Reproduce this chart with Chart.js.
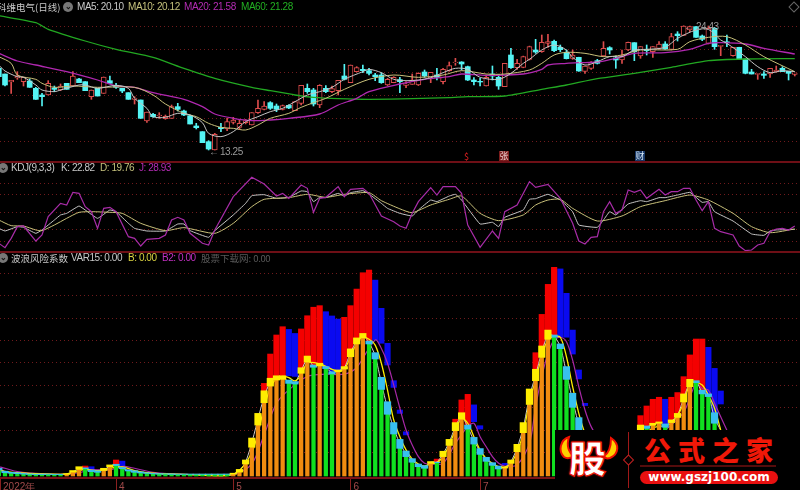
<!DOCTYPE html>
<html lang="zh"><head><meta charset="utf-8">
<script src="https://cdn.jsdelivr.net/npm/chart.js@4"></script>
<style>
html,body{margin:0;padding:0;background:#000;width:800px;height:490px;overflow:hidden}
canvas{position:absolute;left:0;display:block}
.t{position:absolute;white-space:nowrap;font:10px/12px "Liberation Sans","Noto Sans CJK SC",sans-serif;letter-spacing:-.45px;z-index:3}
.cjk{font-family:"Noto Sans CJK SC",sans-serif;letter-spacing:0}
.sep{position:absolute;left:0;width:800px;height:2px;background:#6e0f16;z-index:2}
.ic{position:absolute;width:10px;height:10px;border-radius:50%;background:#777;z-index:3;color:#111;font:bold 8px/9px "Liberation Sans";text-align:center}
</style></head><body>
<canvas id="cTop" style="top:0"></canvas>
<canvas id="cMid" style="top:163px"></canvas>
<canvas id="cBot" style="top:253px"></canvas>
<div class="sep" style="top:161px"></div><div class="sep" style="top:251px"></div>

<span class="t cjk" style="left:-3px;top:1px;color:#c8c8c8;font-size:9.5px">科维电气(日线)</span>
<div class="ic" style="left:63px;top:2px">⌄</div>
<span class="t" style="left:77px;top:1px;color:#c8c8c8">MA5: 20.10</span>
<span class="t" style="left:128px;top:1px;color:#c4c07c">MA10: 20.12</span>
<span class="t" style="left:184px;top:1px;color:#b42cb4">MA20: 21.58</span>
<span class="t" style="left:241px;top:1px;color:#22b022">MA60: 21.28</span>
<span class="t" style="left:209px;top:146px;color:#9a9a9a">←</span><span class="t" style="left:220px;top:146px;color:#9a9a9a">13.25</span>
<span class="t" style="left:684px;top:21px;color:#9a9a9a">← 24.43</span>
<span class="t cjk" style="left:464px;top:151px;color:#e02020;font-size:9px">$</span>
<span class="t cjk" style="left:499px;top:151px;width:10px;height:10px;line-height:10px;background:#7a1c1c;color:#f0d0d0;font-size:9px;text-align:center">张</span>
<span class="t cjk" style="left:635px;top:151px;width:10px;height:10px;line-height:10px;background:#183868;color:#d0e4f4;font-size:9px;text-align:center">财</span>
<div style="position:absolute;left:790px;top:3px;width:6px;height:6px;border:1px solid #666;transform:rotate(45deg);z-index:3"></div>

<div class="ic" style="left:-2px;top:163px">⌄</div>
<span class="t" style="left:11px;top:162px;color:#c8c8c8">KDJ(9,3,3)</span>
<span class="t" style="left:61px;top:162px;color:#c8c8c8">K: 22.82</span>
<span class="t" style="left:100px;top:162px;color:#c4c07c">D: 19.76</span>
<span class="t" style="left:139px;top:162px;color:#b42cb4">J: 28.93</span>

<div class="ic" style="left:-2px;top:253px">⌄</div>
<span class="t cjk" style="left:11px;top:252px;color:#c8c8c8;font-size:9.5px">波浪风险系数</span>
<span class="t" style="left:71px;top:252px;color:#c8c8c8">VAR15: 0.00</span>
<span class="t" style="left:128px;top:252px;color:#d8d040">B: 0.00</span>
<span class="t" style="left:162px;top:252px;color:#c030c0">B2: 0.00</span>
<span class="t cjk" style="left:201px;top:252px;color:#5a5a5a;font-size:9.5px">股票下载网: <span style="letter-spacing:-.4px">0.00</span></span>

<div style="position:absolute;left:555px;top:430px;width:245px;height:60px;background:#000;z-index:4">
  <svg width="245" height="60" style="position:absolute;left:0;top:0">
    <path d="M14 7 C5 10 3 21 9 27 C12 29 16 28 19 26 C14 23 11 16 14 7Z" fill="#ffd000" stroke="#f01000" stroke-width="2"/>
    <path d="M56 8 C65 14 64 24 55 28 C52 29 50 28 49 26 C54 23 56 16 56 8Z" fill="#ffd000" stroke="#f01000" stroke-width="2"/>
    <line x1="73.5" y1="2" x2="73.5" y2="58" stroke="#a01818" stroke-width="1"/>
    <rect x="70" y="26.5" width="7" height="7" fill="#000" stroke="#c02020" transform="rotate(45 73.5 30)"/>
    <line x1="85" y1="36" x2="221" y2="36" stroke="#701010" stroke-width="1.5"/>
    <rect x="85" y="41" width="138" height="13" rx="6.5" fill="#e81010"/>
  </svg>
  <span style="position:absolute;left:14px;top:4px;font:900 37px/46px 'Noto Sans CJK SC',sans-serif;color:#fff;-webkit-text-stroke:1px #f01000;text-shadow:0 0 2px #f01000,0 0 2px #f01000">股</span>
  <span style="position:absolute;left:89px;top:5px;font:900 27px/30px 'Noto Sans CJK SC',serif;color:#f01808;letter-spacing:7px;white-space:nowrap">公式之家</span>
  <span style="position:absolute;left:85px;top:41px;width:138px;text-align:center;font:bold 12px/13px 'DejaVu Sans',sans-serif;color:#fff;white-space:nowrap">www.gszj100.com</span>
</div>

<script>
// ---- price panel (daily candles, indices 0..129) ----
const open=[20.6,20.09,19.37,19.73,19.4,19.46,18.8,18.2,18.2,18.83,18.65,19.25,19.01,19.64,19.4,18.05,18.8,18.35,19.49,19.07,18.8,18.41,17.81,17.75,15.86,16.46,16.31,16.07,16.1,17.15,16.76,16.34,15.41,14.9,14.0,13.25,15.29,15.14,15.74,15.29,15.71,15.5,16.61,16.91,17.51,17.21,16.91,17.27,16.79,17.45,18.8,18.65,17.3,18.8,18.5,18.59,19.91,19.31,20.3,20.51,20.39,20,20,19.1,19.31,19.58,19.07,19.16,19.1,20.27,19.7,20,19.4,20.39,21.11,21.17,20.75,19.55,19.43,19.01,20.09,19.79,18.95,21.8,20.66,20.69,21.41,22.25,22.1,22.85,23.03,22.49,22.04,21.5,21.59,20.33,20.6,21.29,21.71,22.46,21.53,21.35,22.25,22.91,21.71,22.31,22.1,22.4,22.79,22.31,23.69,23.57,24.05,24.35,23.51,22.85,24.2,22.58,22.99,21.74,22.49,21.44,20.27,20.06,20.09,20.09,20.27,20.6,20.33,20.06];
const high=[20.6,20.09,19.52,20.3,19.79,19.64,18.89,18.35,19.49,19.01,19.19,19.25,20.3,19.7,19.4,18.65,18.8,19.82,19.91,19.25,18.8,18.41,18.05,17.75,16.67,16.55,16.61,16.4,17.3,17.45,16.85,16.4,15.65,14.9,14.09,14.75,15.65,16.1,16.19,15.95,16.0,16.61,17.75,17.6,17.6,17.39,17.3,17.33,17.6,19.07,19.19,18.8,19.13,19.04,19.01,19.52,20.96,20.9,20.75,20.9,20.6,20.15,20.21,19.7,19.85,19.79,19.4,20.09,20.2,20.45,20.24,20.6,20.6,21.17,21.5,21.2,20.8,19.76,19.7,20,20.81,20,21.05,22.4,21.41,21.7,22.6,23.21,23.6,23.66,23.15,22.7,22.25,22.25,21.6,20.81,21.2,21.41,23,22.55,21.71,22.25,22.96,22.91,22.55,22.7,22.55,23,23,23.75,23.9,24.43,24.4,24.35,23.6,24.41,24.29,22.67,23.6,22.5,22.5,21.45,20.51,20.15,20.3,20.6,20.81,20.75,20.33,20.18];
const low=[19.85,19.01,18.35,19.61,19.01,18.89,17.81,17.21,18.2,18.5,18.59,18.71,19.01,19.31,18.59,17.81,18.11,18.35,19.25,18.8,18.41,17.81,17.39,16.1,15.74,16.19,16.1,16.01,16.1,16.76,16.34,15.59,15.14,13.91,13.25,13.25,14.9,14.99,15.59,15.11,15.6,15.5,16.55,16.85,16.9,16.7,16.85,16.97,16.79,17.3,18.35,17.21,17.06,18.41,18.41,18.2,19.55,19.31,20.27,20.21,20,19.49,19.25,19.05,19.3,18.41,18.86,19.16,19.05,19.79,19.31,19.55,19.19,20.33,20.87,20.45,19.5,19.1,19.01,19.01,19.55,18.71,18.95,20.6,20.51,20.65,21.35,21.95,22.04,22.49,22.1,22.1,21.44,21.41,20.33,20.15,20.51,20.99,21.65,21.89,20.6,21.05,22.2,21.29,21.5,21.8,21.59,22.31,22.31,22.25,23.06,23.55,23.9,23.39,23.09,22.79,22.31,21.74,22.55,21.7,21.4,20.1,20.09,19.61,19.7,19.79,20.27,20.3,19.55,19.91];
const close=[19.85,19.1,19.52,19.88,19.79,18.89,17.81,18.05,19.25,18.71,19.01,18.71,19.91,19.31,18.59,18.65,18.11,19.82,19.25,18.89,18.56,17.81,17.93,16.1,16.67,16.25,16.4,16.28,17.15,16.91,16.4,15.59,15.26,13.91,13.34,14.66,15.17,15.8,15.95,15.65,15.89,16.61,17.0,17.21,17.0,16.91,17.24,17.03,17.6,19.07,18.5,17.39,19.07,18.5,18.77,19.52,19.61,20.9,20.66,20.39,20.15,19.85,19.31,19.61,19.79,19.4,19.19,19.55,20.15,19.91,20.24,19.79,20.51,20.84,21.17,20.99,19.55,19.4,19.37,19.79,19.91,19.01,21.05,20.66,21.05,21.65,22.55,22.07,22.94,23,22.19,22.28,21.47,21.8,20.36,20.81,21.11,21.05,22.4,22.25,21.35,21.65,22.94,22.1,22.55,22.19,22.55,22.79,22.34,23.45,23.54,24.41,24.35,23.39,23.21,24.2,22.55,22.67,22.91,22.49,21.44,20.15,20.09,20.15,19.97,20.6,20.45,20.3,20.15,20.18];
const priceGrid=[24.35,22.31,20.21,18.14,16.1,14.03];

const ma5Idx=[0,1,3,4,6,7,9,10,13,14,16,19,21,22,24,25,27,29,31,33,34,36,38,40,42,44,46,48,50,52,54,56,59,60,62,64,66,68,70,72,74,76,78,81,83,85,86,88,90,92,93,95,97,99,101,103,105,108,110,113,115,117,118,121,123,125,127,129];
const ma5=[20.9,20.36,19.85,19.79,19.1,18.65,18.5,18.65,19.1,19.1,18.8,19.07,18.8,17.9,17,16.25,16.19,16.55,16.4,15.71,14.75,14.45,14.9,15.8,16.25,16.7,17,17.6,18.2,18.5,18.89,19.61,20.3,20.51,20.21,19.61,19.49,19.55,19.76,20.21,20.6,20.51,19.79,19.61,20.15,21.05,21.41,22.25,22.7,22.25,21.59,20.9,21.2,21.65,21.65,22.25,22.31,22.49,23.3,24.05,24.11,23.15,22.85,21.65,20.75,20.21,20.39,20.3];
const ma10Idx=[0,2,3,6,7,9,12,16,22,25,27,30,32,34,36,38,40,42,44,47,49,51,53,56,60,64,68,72,75,79,82,86,88,90,92,95,98,101,104,110,112,115,118,121,124,129];
const ma10=[21.65,21.05,20,19.61,19.25,18.89,19.01,18.89,18.89,18.2,17.39,16.55,16.25,15.65,15.29,15.2,15.05,15.5,16.1,16.55,17.09,17.51,17.9,18.71,19.61,20,19.79,20,20.39,20.09,20.09,20.45,21.05,21.8,22.04,21.95,21.65,21.8,22.25,22.31,23,23.39,23.45,22.7,21.65,20.3];
const ma20Idx=[0,3,6,11,16,19,22,25,30,33,35,38,41,44,47,52,55,58,60,65,69,73,75,79,85,88,89,92,94,97,100,103,108,112,115,117,121,124,129];
const ma20=[21.95,21.26,20.9,20.3,19.55,19.01,18.89,18.41,17.81,17.15,16.49,16.1,15.89,15.95,16.1,16.49,17.3,17.9,18.5,19.19,19.61,19.85,20.09,19.97,20.09,20.51,20.9,21.05,21.11,21.17,21.5,21.95,22.01,22.31,22.85,22.91,22.79,22.4,21.89];
const ma60Idx=[0,6,8,14,19,25,30,35,41,44,48,51,55,60,67,73,76,82,88,92,97,103,109,115,121,129];
const ma60=[25.34,24.71,24.11,23.06,22.31,21.59,20.6,19.7,18.89,18.59,18.2,17.99,17.87,17.81,17.87,17.96,18.05,18.11,18.71,19.1,19.67,20.15,20.69,21.29,21.44,21.47];

// ---- KDJ panel ----
const kdjGrid=[100,80,50,20,0];
const kIdx=[0,1,3,4,6,7,9,10,11,13,14,16,18,19,21,22,24,27,29,30,31,34,35,38,40,41,43,45,47,49,50,51,52,53,55,56,57,59,60,62,63,65,67,68,70,71,73,74,75,78,80,81,82,85,86,87,89,91,93,94,97,98,99,100,102,104,105,107,108,110,112,113,114,115,116,119,122,124,125,126,129];
const kVals=[22.7,18.2,25.6,24.4,14.2,19.9,36.9,45.5,48.3,60.8,54,39.8,54,51.1,31.3,22.7,18.2,18.2,30.1,30.1,18.8,7.4,18.8,45.5,65.3,78.4,80.1,73.9,75.6,86.4,85.2,68.2,75.6,75,82.4,77.8,83.5,86.9,81.3,65.3,56.8,48.3,43.8,54,71,68.2,77.8,80.7,71,30.1,33,25.6,41.5,54,72.2,73.3,80.7,71,51.1,28.4,24.4,36.9,51.1,45.5,64.2,69.9,68.2,75,75,79.5,84.1,75.6,67,68.2,51.1,35.2,13.1,10.8,18.2,19.9,21];
const dIdx=[0,2,4,6,7,9,11,13,15,18,20,23,27,30,35,38,41,43,47,50,53,56,60,62,65,67,70,73,75,78,81,85,87,89,91,93,97,101,104,108,112,115,119,122,125,129];
const dVals=[36.9,27.3,26.7,19.9,18.8,28.4,39.8,50,51.1,50,48.3,31.3,18.8,23.9,14.2,31.3,59.7,72.2,75,80.7,75.6,80.7,83.5,69.9,56,49.4,62.5,72.2,77.8,48.3,35.8,45.5,62.5,71,72.2,56.8,35.2,43.8,59.7,69.9,79.5,71,48.3,25.6,15.3,21.6];
const jIdx=[0,1,2,3,4,6,7,8,10,11,12,13,14,15,16,17,18,19,21,22,23,24,26,27,28,29,30,31,33,34,35,38,41,43,45,46,47,49,50,51,52,53,55,56,57,59,60,62,64,65,66,67,68,70,71,72,74,75,76,78,80,81,82,84,86,87,89,91,93,94,95,96,97,98,99,100,101,102,103,104,105,107,108,109,110,111,112,113,114,115,116,117,119,120,121,122,123,124,125,126,127,128,129];
const jVals=[-2.8,-10.2,5.7,25.6,26.7,1.1,11.4,42.6,65.3,62.5,84.1,82.4,59.7,51.1,22.7,56.8,58.5,51.1,8.5,5.7,-7.4,4,5.7,11.4,36.9,41.5,36.9,14.2,-2.8,-5.7,19.9,76.7,109.7,98.3,77.8,82.4,73.9,96.6,90.9,50,73.9,75.6,93.8,76.7,89.2,90.9,82.4,43.8,34.1,26.7,22.7,48.3,68.2,92,79.5,93.8,93.8,82.4,28.4,-9.7,18.2,5.7,51.1,62.5,102.3,92.6,97.7,73.9,31.3,1.1,-4,7.4,8.5,51.1,68.2,48.3,54,88.1,84.1,88.1,73.9,89.2,79.5,85.2,85.2,90.9,90.9,71,52.8,68.2,22.7,17,11.4,-7.4,-15.3,-14.2,-5.7,-2.8,17,21.6,22.7,19.9,26.7];

// ---- wave risk panel ----
const riskGrid=[10,20,30,40,50,60,70,80,90];
const innerTop=[2.2,1,.8,.6,.4,.3,.2,.2,.3,.2,.2,.3,1.3,2.5,2.8,1.5,1.2,2,3.7,4.2,2.8,1.8,1.2,.9,.7,.5,.4,.4,.3,.3,.3,.3,.3,.3,.3,.3,.3,.3,.4,1.3,4.9,12.4,22.3,32.3,39.7,42.4,42.7,40.9,40.6,45.4,50.4,48.1,48.7,47.5,45.1,46.1,47.3,52.8,58.5,61.2,58.5,51.8,38.2,27.1,18.3,11.9,8.2,5.7,3.7,3,5.2,5.5,8.2,13.2,19.8,24.9,20.5,13.8,9.2,6.1,4.3,2.7,3.1,5.2,10.4,18.9,31.5,42.1,52.5,60.6,61.5,56.4,42.7,30.2,20.1,null,null,null,null,null,null,null,null,null,20.1,20.8,22.2,23.1,21.3,23.4,25.7,32.6,39.4,41.2,36.2,35,23.1,null];
const blockTop=[3,1.7,1.2,1,.7,.5,.4,.4,.4,.3,.3,.5,2,3.7,3.2,2.2,1.9,3,4.5,4.8,3.4,2.3,1.9,1.4,1,.7,.6,.5,.5,.4,.4,.4,.4,.4,.4,.4,.4,.4,.8,2.5,6.7,16.5,27.5,37.6,43.2,44.3,44.3,42.4,41.7,47.9,53.1,49.1,49.9,48.4,46.1,46.9,48.4,56.3,61.2,63.2,59.8,54.6,43.6,32.7,23.4,15.9,10.7,7.3,4.9,4.2,6,5.7,10.6,15.9,23.4,27.8,22.3,16.8,11.8,7.9,5.5,4,3.7,6.7,13.7,23.4,38.4,47.2,57.6,64.7,62.5,58.5,48.4,36.5,25.6,null,null,null,null,null,null,null,null,null,22.3,21.9,23.1,23.7,22.8,24.6,27.5,36.2,42.7,42.1,37.9,36.2,27.8,null];
const innerRising=[0,0,0,0,0,0,0,0,0,0,0,1,1,1,0,0,0,1,1,0,0,0,0,0,0,0,0,0,0,0,0,0,0,0,0,0,0,0,1,1,1,1,1,1,1,1,1,0,0,1,1,0,1,0,0,1,1,1,1,1,0,0,0,0,0,0,0,0,0,0,1,0,1,1,1,1,0,0,0,0,0,0,1,1,1,1,1,1,1,1,0,0,0,0,0,0,0,0,0,0,0,0,0,0,1,0,1,1,0,1,1,1,1,0,0,0,0,0];
const barIndex=[14,15,19,20,43,44,45,46,47,48,49,50,51,52,53,54,55,56,57,58,59,60,61,62,63,64,65,66,71,74,75,76,77,78,82,87,88,89,90,91,92,93,94,95,104,105,106,107,108,109,110,111,112,113,114,115,116,117];
const barHigh=[4,3.7,6.7,6.2,40.9,54,62.5,66.2,65,63.2,65.2,71.1,74.9,75.6,72.9,71,69.6,70.4,75.6,83,90.3,91.5,87,74.4,58.8,42.1,29,19.3,7.1,24.9,33.5,36,31.3,22,5.2,54.6,71.7,85.1,92.7,92,81.1,64.7,46.9,32,26.5,30.8,33.8,34.7,33.8,34.7,36.8,43.9,53.6,60.7,60.7,57,47.6,37.5];
const barLow=[3.2,2.2,4.8,3.4,37.6,43.2,44.3,44.3,44.3,44,47.9,53.1,49.1,49.9,48.4,46.1,46.9,48.4,56.3,61.2,63.2,59.8,60.3,58.8,49.1,39.1,27.5,17.9,5.7,23.4,27.8,22.3,23.8,20.5,4.5,47.2,57.6,64.7,62.5,61.5,61.5,54,42.9,31,22.3,21.9,23.1,23.7,22.8,24.6,27.5,36.2,42.7,42.1,37.9,36.2,27.8,31.7];
const barRising=[1,0,1,0,1,1,1,1,0,0,1,1,1,1,0,0,0,1,1,1,1,1,0,0,0,0,0,0,1,1,1,1,0,0,0,1,1,1,1,0,0,0,0,0,1,1,1,1,0,1,1,1,1,1,1,0,0,0];
const varIdx=[0,1,2,3,4,5,10,11,12,13,14,15,16,17,18,19,20,21,22,24,26,30,37,38,39,40,41,42,43,44,45,46,47,48,49,50,51,52,53,54,55,56,57,58,59,60,61,62,63,64,65,66,67,68,69,70,71,72,73,74,75,76,77,78,79,80,81,82,83,84,85,86,87,88,89,90,91,92,93,94,97,99,101,103,104,105,106,107,108,109,110,111,112,113,114,115,116,117];
const varVals=[3,1.5,1,.75,.6,.45,.3,.4,1.5,2.6,2.7,2,1.6,2.3,3.9,4.2,3,2,1.6,.9,.5,.3,.3,.5,1.9,5.8,14.4,25,35,41.5,43.5,43.5,41.7,41.2,46.6,51.8,48.7,49.3,47.9,45.7,46.4,47.9,54.6,59.8,62.2,59.2,53.3,40.9,29.9,20.8,14,9.5,6.5,4.3,3.6,5.7,5.8,9.4,14.6,21.6,26.3,21.4,15.3,10.6,7,4.9,3.4,3.4,6,12,21.1,35,44.6,55,62.6,62,57.4,45.5,33.3,22.9,4,3,8,16,21.3,21.4,22.6,23.4,22,24,26.6,34.4,41.1,41.7,37,35.6,25.4,20];
const bIdx=[0,3,10,12,14,16,18,20,22,25,30,38,41,43,44,45,46,47,48,49,50,52,54,55,56,57,58,59,60,61,62,63,64,65,66,67,68,69,70,71,72,73,74,75,76,77,78,79,80,81,82,83,84,85,86,87,88,89,90,91,92,93,94,95,97,99,101,103,106,109,111,112,113,114,115,116,117];
const bVals=[2,1,.3,1,2.5,1.9,3,3.6,2,.8,.3,.3,10,30,39,43,44,43.5,42,44.6,50,49.6,47.2,46.4,47.2,52.8,58.8,61.5,60.6,58,49.9,37.9,24.6,17.1,11.2,7.1,4.9,4,4.9,5.5,8.2,13.4,20.1,25.3,23.1,17.1,11.2,7.3,5.2,3.7,3.4,5.2,10.4,18.6,32.7,42.4,52.8,60.6,61.8,61.5,52.8,39.4,27.5,18.6,7,4,7,14,21,23,32,40.9,41.2,40.2,35.7,29.8,20.1];
const b2Idx=[0,1,3,5,10,13,15,18,20,22,25,30,38,41,43,45,47,50,53,56,58,61,62,63,64,65,66,67,68,69,70,72,74,76,77,78,79,80,81,82,84,86,87,88,89,90,91,92,93,94,95,96,98,100,102,104,108,111,113,114,115,116,117,118];
const b2Vals=[3.7,3,1.5,.9,.3,1,2.4,2.2,3.8,3,1.2,.3,.2,5,18,32,38,44,45,45,48,60.3,56.5,49.9,40.2,29.8,20.1,13.4,8.2,5.2,4.9,5.2,14.1,21.6,23.1,17.1,12.6,8.2,5.2,4,4.5,14.1,30.5,43.9,54.3,60.3,61.5,59.5,51.3,39.4,29,21.6,12,5,8,12,20,28,41,38.7,37.9,32,26,20];
const minorTicks=[24,29,33,43,48,52,62,67,73,83,88];
const monthTicks=[0.2,19,38,57,78];
const monthLabels=['2022年','4','5','6','7'];

Chart.defaults.font.family='"Liberation Sans",sans-serif';
const X0=0.19,X1=129.85,GRID='#701a1c';
const pts=(ix,vs)=>ix.map((x,k)=>({x,y:vs[k]}));
const lineDs=(ix,vs,color,w,order,tension)=>({type:'line',data:pts(ix,vs),borderColor:color,borderWidth:w,pointRadius:0,tension:tension,order:order,xAxisID:'x',yAxisID:'y'});
const barDs=(data,color,thick,order,extra)=>Object.assign({type:'bar',data,backgroundColor:color,barThickness:thick,grouped:false,borderWidth:0,order,xAxisID:'x',yAxisID:'y'},extra||{});
const xHidden={type:'linear',min:X0,max:X1,offset:false,display:false,grid:{offset:false}};
const yScale=(min,max,grid)=>({type:'linear',min,max,offset:false,display:true,position:'left',
  afterBuildTicks:s=>{s.ticks=grid.map(v=>({value:v}))},afterFit:s=>{s.width=0},
  ticks:{display:false},border:{display:false,dash:[1,3]},
  grid:{color:GRID,drawTicks:false,lineWidth:1}});
const base={responsive:false,animation:false,events:[],devicePixelRatio:1,layout:{padding:0},
  plugins:{legend:{display:false},tooltip:{enabled:false},title:{display:false}}};
function size(id,h){const c=document.getElementById(id);c.width=800;c.height=h;c.style.width='800px';c.style.height=h+'px';return c}

// --- candles
const IDX=open.map((_,i)=>i);
const upI=IDX.filter(i=>close[i]>=open[i]), dnI=IDX.filter(i=>close[i]<open[i]);
const RED='#dc4c4c',CY='#54f4f4';
new Chart(size('cTop',161),{type:'bar',data:{datasets:[
  lineDs(ma5Idx,ma5,'#c4c4c4',1,1,.3),
  lineDs(ma10Idx,ma10,'#c8c07a',1,1,.3),
  lineDs(ma20Idx,ma20,'#b028b0',1.3,1,.3),
  lineDs(ma60Idx,ma60,'#22a822',1.3,1,.2),
  barDs(upI.map(i=>({x:i,y:[open[i],close[i]]})),'#000',5,5,{borderColor:RED,borderWidth:1,borderSkipped:false}),
  barDs(dnI.map(i=>({x:i,y:[open[i],close[i]]})),CY,5,5),
  barDs(upI.map(i=>({x:i,y:[low[i],high[i]]})),RED,1,6),
  barDs(dnI.map(i=>({x:i,y:[low[i],high[i]]})),CY,1,6)
]},options:Object.assign({},base,{scales:{x:xHidden,y:yScale(26.75-0.09*161,26.75,priceGrid)}})});

// --- KDJ  (panel y 163..251)
const kv=px=>(245-(px-160)*3)/1.76;
new Chart(size('cMid',88),{type:'line',data:{datasets:[
  lineDs(dIdx,dVals,'#c8c07a',1,2,.2),
  lineDs(kIdx,kVals,'#c4c4c4',1,2,.1),
  lineDs(jIdx,jVals,'#a82ca8',1.2,1,0)
]},options:Object.assign({},base,{scales:{x:xHidden,y:yScale(kv(251),kv(163),kdjGrid)}})});

// --- wave risk (canvas top 253; chart area ends at y=478, value 0 at y=475)
const BASE=-0.45;
const makeIdx=flag=>innerTop.map((_,i)=>i).filter(i=>innerRising[i]===flag&&innerTop[i]!==null);
const innerUp=makeIdx(1),innerDn=makeIdx(0);
const tallUp=barIndex.map((_,k)=>k).filter(k=>barRising[k]), tallDn=barIndex.map((_,k)=>k).filter(k=>!barRising[k]);
new Chart(size('cBot',237),{type:'bar',data:{datasets:[
  barDs(innerUp.map(i=>({x:i,y:[innerTop[i],blockTop[i]]})),'#ffee00',6.5,3),
  barDs(innerDn.map(i=>({x:i,y:[innerTop[i],blockTop[i]]})),'#38c0f0',6.5,3),
  barDs(innerUp.map(i=>({x:i,y:[BASE,innerTop[i]]})),'#f08c10',3.6,4),
  barDs(innerDn.map(i=>({x:i,y:[BASE,innerTop[i]]})),'#10e020',3.6,4),
  lineDs(bIdx,bVals,'#ffee00',1.3,5,.3),
  lineDs(varIdx,varVals,'#d0d0d0',1,6,.2),
  lineDs(b2Idx,b2Vals,'#a828a8',1.2,7,.3),
  barDs(tallUp.map(k=>({x:barIndex[k],y:[barLow[k],barHigh[k]]})),'#f40000',5.5,8),
  barDs(tallDn.map(k=>({x:barIndex[k],y:[barLow[k],barHigh[k]]})),'#0a0af0',5.5,8)
]},options:Object.assign({},base,{scales:{
  x:{type:'linear',position:'bottom',min:X0,max:X1,offset:false,
     afterBuildTicks:s=>{s.ticks=monthTicks.map(v=>({value:v}))},
     afterFit:s=>{s.height=12},
     border:{display:true,color:'#7a1218',width:2},
     grid:{offset:false,drawOnChartArea:false,drawTicks:true,tickLength:12,color:'#8a2020'},
     ticks:{autoSkip:false,maxRotation:0,minRotation:0,align:'start',labelOffset:3,padding:-9,color:'#a04a4a',font:{size:10},
            callback:v=>monthLabels[monthTicks.indexOf(v)]??''}},
  x2:{type:'linear',position:'bottom',min:X0,max:X1,offset:false,
     afterBuildTicks:s=>{s.ticks=minorTicks.map(v=>({value:v}))},
     afterFit:s=>{s.height=0},
     border:{display:false},
     grid:{offset:false,drawOnChartArea:false,drawTicks:true,tickLength:3,color:'#8a2020'},
     ticks:{display:true,autoSkip:false,maxRotation:0,callback:()=>''}},
  y:yScale(-3/2.24,(475-253)/2.24,riskGrid)}})});
</script>
</body></html>
